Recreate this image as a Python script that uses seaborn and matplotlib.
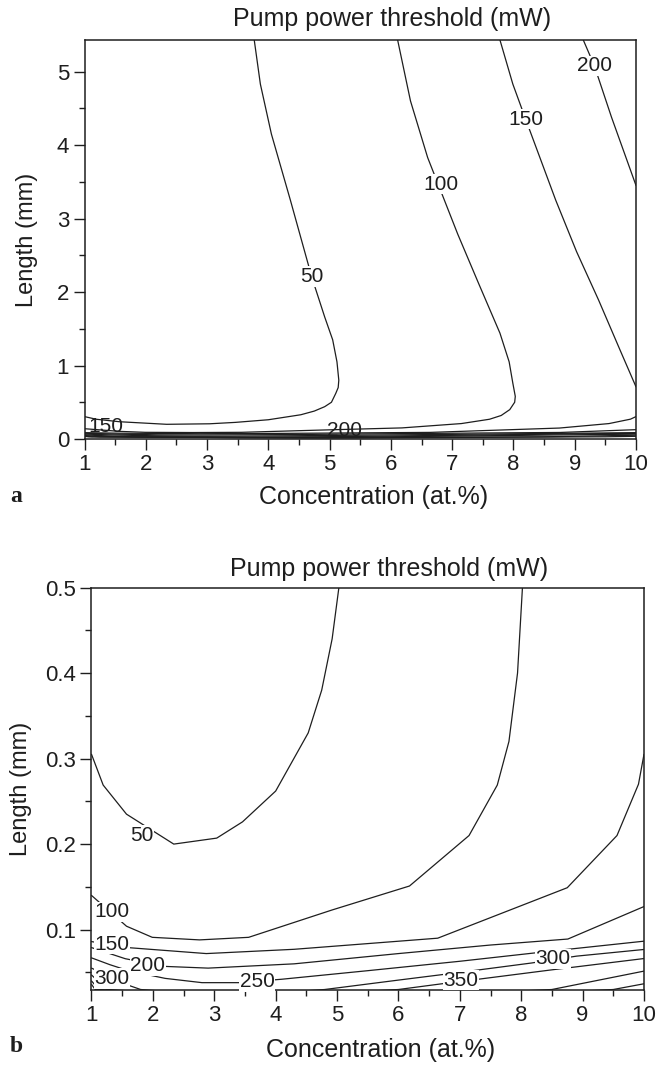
import numpy as np
import pandas as pd
import seaborn as sns
import matplotlib.pyplot as plt
from matplotlib.ticker import MultipleLocator, FormatStrFormatter

# contour lines of the pump power threshold (mW)
# concentration (at.%) / length (mm) pairs for each contour piece
c50 = [3.77, 3.87, 4.05, 4.36, 4.71, 4.92, 5.05, 5.12, 5.15, 5.14, 5.10, 5.03, 4.92, 4.75, 4.53, 4.00, 3.46, 3.04, 2.34, 1.57, 1.19, 1.00]
l50 = [5.43, 4.83, 4.15, 3.25, 2.20, 1.66, 1.35, 1.05, 0.80, 0.70, 0.62, 0.50, 0.44, 0.38, 0.33, 0.262, 0.226, 0.207, 0.200, 0.235, 0.269, 0.305]

c100 = [6.11, 6.32, 6.60, 7.09, 7.43, 7.78, 7.93, 7.99, 8.03, 8.02, 7.94, 7.80, 7.61, 7.15, 6.18, 4.92, 3.56, 2.76, 1.99, 1.57, 1.00]
l100 = [5.43, 4.60, 3.83, 2.79, 2.12, 1.44, 1.05, 0.76, 0.58, 0.50, 0.40, 0.32, 0.269, 0.210, 0.151, 0.123, 0.091, 0.088, 0.091, 0.104, 0.140]

c150_top = [7.78, 7.99, 8.20, 8.69, 9.03, 9.39, 9.74, 10.0]
l150_top = [5.43, 4.83, 4.35, 3.25, 2.55, 1.89, 1.21, 0.71]
c150_low = [10.0, 9.91, 9.56, 8.75, 6.64, 4.30, 2.87, 1.59, 1.00]
l150_low = [0.305, 0.270, 0.210, 0.149, 0.090, 0.077, 0.072, 0.079, 0.086]

c200_top = [9.14, 9.32, 9.60, 10.0]
l200_top = [5.43, 5.08, 4.38, 3.45]
c200_low = [10.0, 8.76, 7.50, 6.00, 4.30, 2.90, 2.20, 1.55, 1.00]
l200_low = [0.127, 0.089, 0.082, 0.072, 0.060, 0.055, 0.057, 0.066, 0.079]

c250 = [1.00, 1.30, 1.60, 2.20, 2.80, 3.40, 4.10, 5.50, 7.00, 8.50, 10.0]
l250 = [0.067, 0.059, 0.052, 0.043, 0.038, 0.038, 0.042, 0.052, 0.063, 0.075, 0.0865]

c300 = [1.00, 1.30, 1.60, 1.80, 3.20, 4.80, 6.00, 7.00, 8.17, 8.90, 10.0]
l300 = [0.055, 0.045, 0.035, 0.030, 0.022, 0.030, 0.041, 0.050, 0.061, 0.069, 0.0768]

c350 = [1.00, 1.25, 3.50, 6.00, 6.74, 7.30, 8.50, 10.0]
l350 = [0.047, 0.030, 0.020, 0.030, 0.037, 0.042, 0.053, 0.0662]

c400 = [1.00, 1.12, 4.50, 8.50, 10.0]
l400 = [0.040, 0.030, 0.016, 0.030, 0.0515]

c450 = [1.00, 1.06, 5.00, 9.50, 10.0]
l450 = [0.036, 0.030, 0.013, 0.030, 0.0367]

pieces = {
    '50': (c50, l50), '100': (c100, l100),
    '150a': (c150_top, l150_top), '150b': (c150_low, l150_low),
    '200a': (c200_top, l200_top), '200b': (c200_low, l200_low),
    '250': (c250, l250), '300': (c300, l300), '350': (c350, l350),
    '400': (c400, l400), '450': (c450, l450),
}

# inline contour labels (text, concentration, length)
labels_a_text = ['50', '100', '150', '200']
labels_a_c = [4.71, 6.81, 8.20, 9.32]
labels_a_l = [2.21, 3.47, 4.35, 5.08]
labels_a_low_text = ['150', '200']
labels_a_low_c = [1.35, 5.24]
labels_a_low_l = [0.17, 0.12]

labels_b_text = ['50', '100', '150', '200', '300', '250', '350', '300']
labels_b_c = [1.82, 1.33, 1.33, 1.92, 1.33, 3.70, 7.02, 8.52]
labels_b_l = [0.210, 0.121, 0.083, 0.058, 0.043, 0.039, 0.041, 0.066]

frames = []
for name, (c, l) in pieces.items():
    frames.append(pd.DataFrame({'conc': c, 'length': l, 'piece': name}))
df = pd.concat(frames, ignore_index=True)

sns.set_theme(style='ticks')
plt.rcParams['font.family'] = ['Liberation Sans', 'DejaVu Sans']

INK = '#1e1e1e'
W, H = 662, 1065
fig = plt.figure(figsize=(W / 100, H / 100), dpi=100)
# axes boxes in pixels: left, right, top, bottom
A_L, A_R, A_T, A_B = 84.5, 636, 40, 439
B_L, B_R, B_T, B_B = 91.5, 644, 587.5, 989.5
ax_a = fig.add_axes([A_L / W, 1 - A_B / H, (A_R - A_L) / W, (A_B - A_T) / H])
ax_b = fig.add_axes([B_L / W, 1 - B_B / H, (B_R - B_L) / W, (B_B - B_T) / H])

for ax in (ax_a, ax_b):
    sns.lineplot(data=df, x='conc', y='length', units='piece', estimator=None,
                 sort=False, color=INK, linewidth=0.9, legend=False, ax=ax)
    ax.set_xlim(1, 10)
    ax.xaxis.set_major_locator(MultipleLocator(1))
    ax.xaxis.set_minor_locator(MultipleLocator(0.5))
    ax.tick_params(which='major', direction='out', length=8, width=1,
                   labelsize=16, colors=INK, pad=3)
    ax.tick_params(which='minor', direction='out', length=4, width=1, colors=INK)
    for s in ax.spines.values():
        s.set_linewidth(1.1)
        s.set_color(INK)
    ax.set_xlabel('Concentration (at.%)', fontsize=18, color=INK)
    ax.set_ylabel('Length (mm)', fontsize=17, color=INK)
    ax.xaxis.label.set_va('center')
    ax.yaxis.label.set_va('center')

ax_a.xaxis.set_label_coords((373.5 - A_L) / (A_R - A_L), (A_B - 497) / (A_B - A_T))
ax_a.yaxis.set_label_coords((27 - A_L) / (A_R - A_L), 0.5)
ax_b.xaxis.set_label_coords((381 - B_L) / (B_R - B_L), (B_B - 1050) / (B_B - B_T))
ax_b.yaxis.set_label_coords((21 - B_L) / (B_R - B_L), 0.5)

ax_a.set_ylim(0, 5.43)
ax_a.yaxis.set_major_locator(MultipleLocator(1))
ax_a.yaxis.set_minor_locator(MultipleLocator(0.5))

ax_b.set_ylim(0.03, 0.5)
ax_b.yaxis.set_major_locator(MultipleLocator(0.1))
ax_b.yaxis.set_minor_locator(MultipleLocator(0.05))
ax_b.yaxis.set_major_formatter(FormatStrFormatter('%.1f'))

box = dict(facecolor='white', edgecolor='none', pad=0.5)
for t, c, l in zip(labels_a_text, labels_a_c, labels_a_l):
    ax_a.text(c, l, t, ha='center', va='center', fontsize=15, color=INK, bbox=box)
for t, c, l in zip(labels_a_low_text, labels_a_low_c, labels_a_low_l):
    ax_a.text(c, l, t, ha='center', va='center', fontsize=15, color=INK)
for t, c, l in zip(labels_b_text, labels_b_c, labels_b_l):
    ax_b.text(c, l, t, ha='center', va='center', fontsize=15, color=INK, bbox=box)

ax_a.text((392 - A_L) / (A_R - A_L), (A_B - 19) / (A_B - A_T), 'Pump power threshold (mW)',
          transform=ax_a.transAxes, ha='center', va='center', fontsize=18, color=INK)
ax_b.text((389.5 - B_L) / (B_R - B_L), (B_B - 569) / (B_B - B_T), 'Pump power threshold (mW)',
          transform=ax_b.transAxes, ha='center', va='center', fontsize=18, color=INK)

fig.text(16 / W, 1 - 497 / H, 'a', family='Liberation Serif', weight='bold',
         fontsize=17, ha='center', va='center', color=INK)
fig.text(16 / W, 1 - 1046 / H, 'b', family='Liberation Serif', weight='bold',
         fontsize=17, ha='center', va='center', color=INK)

fig.savefig('out.png', dpi=100)
